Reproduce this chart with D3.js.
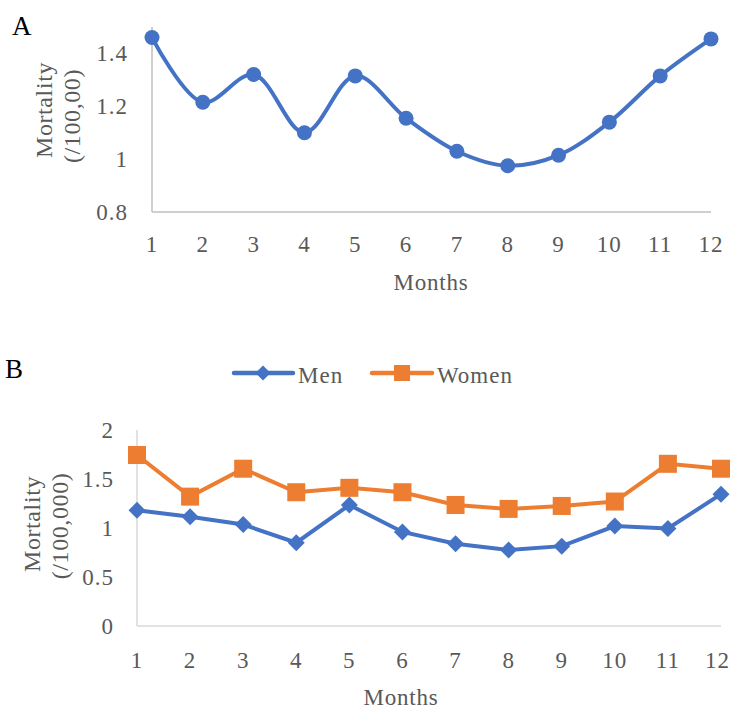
<!DOCTYPE html>
<html><head><meta charset="utf-8">
<script src="https://cdn.jsdelivr.net/npm/d3@7"></script>
<style>
html,body{margin:0;padding:0;background:#fff;}
text{font-family:"Liberation Serif","Times New Roman",serif;fill:#595959;}
</style></head>
<body>
<svg id="c" width="732" height="711"></svg>
<script>
const months = [1,2,3,4,5,6,7,8,9,10,11,12];
const totalMortality = [1.46,1.215,1.32,1.10,1.315,1.155,1.03,0.975,1.015,1.14,1.315,1.455];
const menMortality = [1.18,1.115,1.035,0.85,1.235,0.96,0.84,0.775,0.815,1.02,0.995,1.345];
const womenMortality = [1.745,1.32,1.605,1.365,1.41,1.365,1.235,1.195,1.225,1.27,1.655,1.605];
const ticksA = [0.8,1,1.2,1.4];
const ticksB = [0,0.5,1,1.5,2];
const seriesNames = ["Men","Women"];

const svg = d3.select("#c");
const blue = "#4472C4", orange = "#ED7D31";

// ---------- Chart A ----------
const xA = d3.scaleLinear().domain([1,12]).range([152,711]);
const yA = d3.scaleLinear().domain([0.8,1.5]).range([212,27]);
const gA = svg.append("g");
gA.append("line").attr("x1",xA(1)).attr("x2",xA(12)).attr("y1",yA(0.8)).attr("y2",yA(0.8)).attr("stroke","#BFBFBF").attr("stroke-width",1.5);
gA.append("line").attr("x1",xA(1)).attr("x2",xA(1)).attr("y1",yA(0.8)).attr("y2",yA(1.5)).attr("stroke","#BFBFBF").attr("stroke-width",1.5);
gA.selectAll(".yt").data(ticksA).join("text").attr("x",128).attr("y",d=>yA(d)+8)
  .attr("text-anchor","end").attr("font-size",23).attr("letter-spacing",1).text(d=>d);
gA.selectAll(".xt").data(months).join("text").attr("class","xt").attr("x",d=>xA(d)).attr("y",252)
  .attr("text-anchor","middle").attr("font-size",23).attr("letter-spacing",1).text(d=>d);
gA.append("text").attr("x",431).attr("y",290).attr("text-anchor","middle").attr("font-size",23).attr("letter-spacing",0.8).text("Months");
gA.append("text").attr("transform","translate(52,110) rotate(-90)").attr("text-anchor","middle").attr("font-size",24).attr("letter-spacing",0.6).text("Mortality");
gA.append("text").attr("transform","translate(80,116) rotate(-90)").attr("text-anchor","middle").attr("font-size",24).attr("letter-spacing",0.6).text("(/100,00)");
gA.append("text").attr("x",12).attr("y",35).attr("font-size",27).style("fill","#000").text("A");
const lineA = d3.line().x((d,i)=>xA(months[i])).y(d=>yA(d)).curve(d3.curveCatmullRom.alpha(0.5));
gA.append("path").attr("d",lineA(totalMortality)).attr("fill","none").attr("stroke",blue).attr("stroke-width",4);
gA.selectAll("circle").data(totalMortality).join("circle").attr("cx",(d,i)=>xA(months[i])).attr("cy",d=>yA(d)).attr("r",7.5).attr("fill",blue);

// ---------- Chart B ----------
const xB = d3.scaleLinear().domain([1,12]).range([137,721]);
const yB = d3.scaleLinear().domain([0,2]).range([626,430]);
const gB = svg.append("g");
gB.append("line").attr("x1",xB(1)).attr("x2",xB(12)).attr("y1",yB(0)).attr("y2",yB(0)).attr("stroke","#D9D9D9").attr("stroke-width",1.5);
gB.append("line").attr("x1",xB(1)).attr("x2",xB(1)).attr("y1",yB(0)).attr("y2",yB(2)).attr("stroke","#D9D9D9").attr("stroke-width",1.5);
gB.selectAll(".yt").data(ticksB).join("text").attr("x",114).attr("y",d=>yB(d)+8)
  .attr("text-anchor","end").attr("font-size",23).attr("letter-spacing",1).text(d=>d);
gB.selectAll(".xt").data(months).join("text").attr("class","xt").attr("x",d=>xB(d)).attr("y",668)
  .attr("text-anchor","middle").attr("font-size",23).attr("letter-spacing",1).text(d=>d);
gB.append("text").attr("x",401).attr("y",705).attr("text-anchor","middle").attr("font-size",23).attr("letter-spacing",0.8).text("Months");
gB.append("text").attr("transform","translate(40,524) rotate(-90)").attr("text-anchor","middle").attr("font-size",24).attr("letter-spacing",0.6).text("Mortality");
gB.append("text").attr("transform","translate(68,526) rotate(-90)").attr("text-anchor","middle").attr("font-size",24).attr("letter-spacing",0.6).text("(/100,000)");
gB.append("text").attr("x",5).attr("y",378).attr("font-size",27).style("fill","#000").text("B");

const lineB = d3.line().x((d,i)=>xB(months[i])).y(d=>yB(d));
gB.append("path").attr("d",lineB(menMortality)).attr("fill","none").attr("stroke",blue).attr("stroke-width",4);
gB.append("path").attr("d",lineB(womenMortality)).attr("fill","none").attr("stroke",orange).attr("stroke-width",4);
const diamond = (cx,cy,r)=>`M${cx},${cy-r}L${cx+r},${cy}L${cx},${cy+r}L${cx-r},${cy}Z`;
gB.selectAll(".dm").data(menMortality).join("path").attr("d",(d,i)=>diamond(xB(months[i]),yB(d),8.5)).attr("fill",blue);
gB.selectAll(".sq").data(womenMortality).join("rect").attr("x",(d,i)=>xB(months[i])-9).attr("y",d=>yB(d)-9).attr("width",18).attr("height",18).attr("fill",orange);

// legend
const leg = gB.append("g");
leg.append("line").attr("x1",234).attr("x2",293).attr("y1",373).attr("y2",373).attr("stroke",blue).attr("stroke-width",4.5).attr("stroke-linecap","round");
leg.append("path").attr("d",diamond(263,373,7.5)).attr("fill",blue);
leg.append("text").attr("x",298).attr("y",383).attr("font-size",23).attr("letter-spacing",1).text(seriesNames[0]);
leg.append("line").attr("x1",372).attr("x2",432).attr("y1",373).attr("y2",373).attr("stroke",orange).attr("stroke-width",4.5).attr("stroke-linecap","round");
leg.append("rect").attr("x",394).attr("y",365).attr("width",16).attr("height",16).attr("fill",orange);
leg.append("text").attr("x",437).attr("y",383).attr("font-size",23).attr("letter-spacing",1).text(seriesNames[1]);

// keep tick labels inside the canvas
svg.selectAll("text.xt").each(function(){
  const b = this.getBBox();
  const over = b.x + b.width - 730;
  if (over > 0) d3.select(this).attr("x", +d3.select(this).attr("x") - over);
});
</script>
</body></html>
